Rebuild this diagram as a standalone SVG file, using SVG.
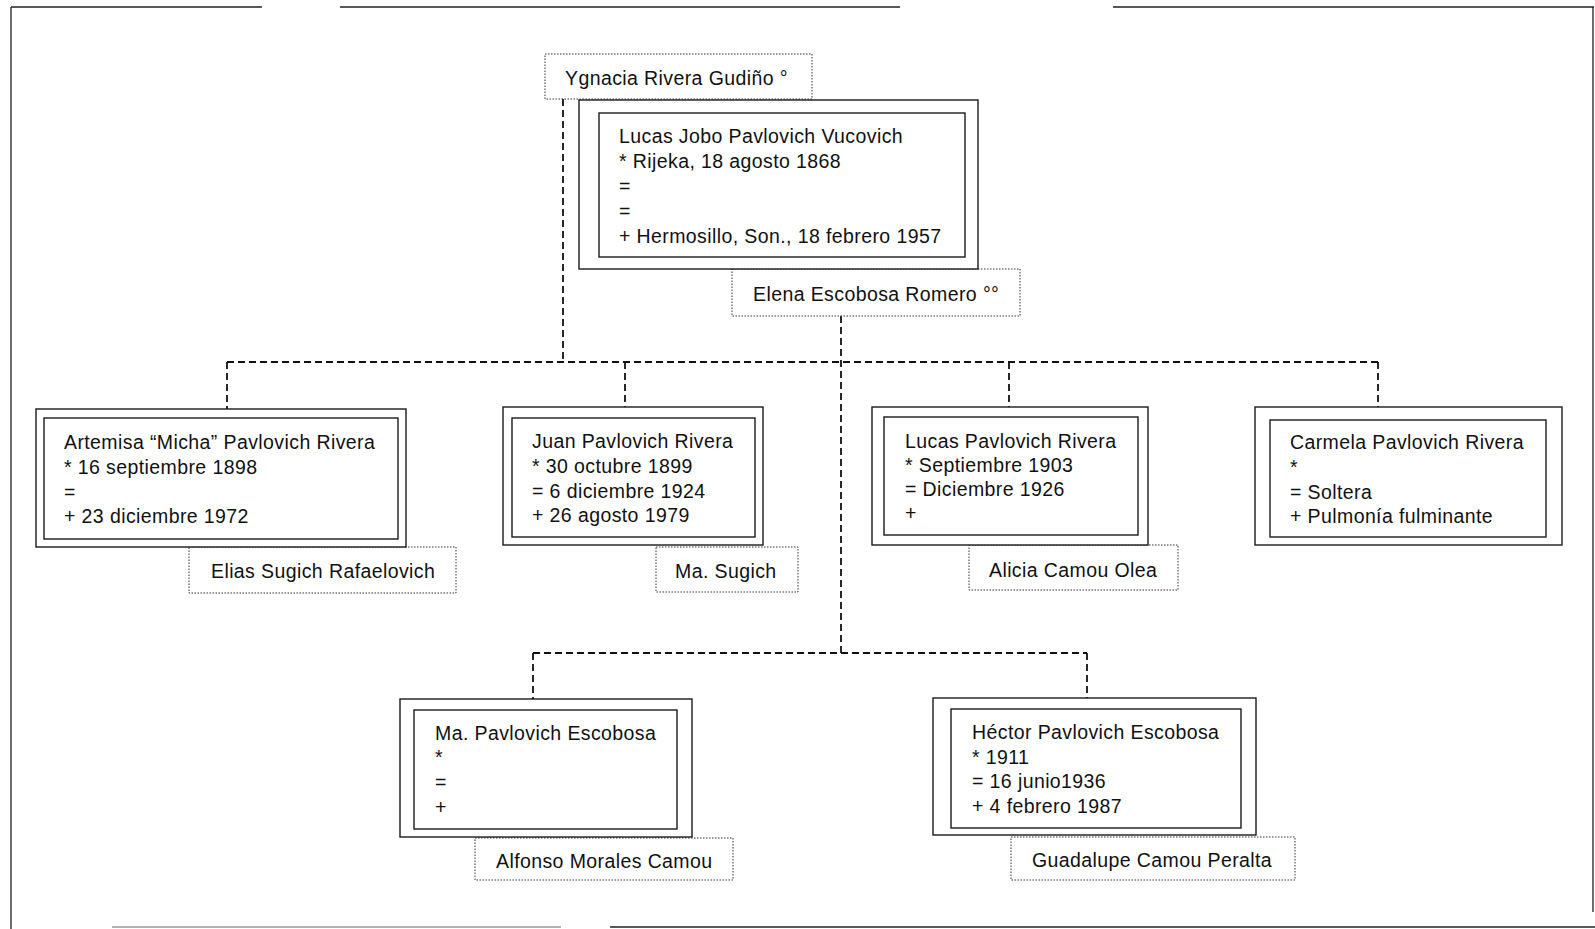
<svg xmlns="http://www.w3.org/2000/svg" width="1595" height="929" viewBox="0 0 1595 929">
<style>
.frame{fill:none;stroke:#222;stroke-width:1.3}
.box{fill:#fff;stroke:#1a1a1a;stroke-width:1.4}
.inner{fill:none;stroke:#1a1a1a;stroke-width:1.4}
.partner{fill:none;stroke:#333;stroke-width:1;stroke-dasharray:1.5 1.5}
.conn{fill:none;stroke:#111;stroke-width:1.8;stroke-dasharray:7 4}
text{font-family:"Liberation Sans",Arial,sans-serif;font-size:19.5px;letter-spacing:0.4px;fill:#111}
</style>
<rect width="1595" height="929" fill="#fff"/>
<g id="frame">
<path class="frame" d="M11,7H262M340,7H900M1113,7H1594M11,7V929M1593,7V912M610,927H1595"/>
<path d="M112,927H561" stroke="#999" stroke-width="1.3" fill="none"/>
</g>
<g id="connectors">
<path class="conn" d="M563,99V362M841,316V653M227,362H1378M227,362V409M625,362V407M1009,362V407M1378,362V407M533,653H1087M533,653V699M1087,653V698"/>
</g>
<g id="ygnacia">
<rect class="partner" x="545" y="54" width="267" height="45"/>
<text x="565" y="85">Ygnacia Rivera Gudiño °</text>
</g>
<g id="elena">
<rect class="partner" x="732" y="269" width="288" height="47"/>
<text x="753" y="301">Elena Escobosa Romero °°</text>
</g>
<g id="lucas-jobo">
<rect class="box" x="579" y="100" width="399" height="169"/>
<rect class="inner" x="599" y="113" width="366" height="144"/>
<text x="619" y="143">Lucas Jobo Pavlovich Vucovich</text>
<text x="619" y="168">* Rijeka, 18 agosto 1868</text>
<text x="619" y="193">=</text>
<text x="619" y="218">=</text>
<text x="619" y="243">+ Hermosillo, Son., 18 febrero 1957</text>
</g>
<g id="elias">
<rect class="partner" x="189" y="547" width="267" height="46"/>
<text x="211" y="578">Elias Sugich Rafaelovich</text>
</g>
<g id="artemisa">
<rect class="box" x="36" y="409" width="370" height="138"/>
<rect class="inner" x="44" y="418" width="354" height="121"/>
<text x="64" y="449">Artemisa “Micha” Pavlovich Rivera</text>
<text x="64" y="474">* 16 septiembre 1898</text>
<text x="64" y="499">=</text>
<text x="64" y="523">+ 23 diciembre 1972</text>
</g>
<g id="ma-sugich">
<rect class="partner" x="656" y="547" width="142" height="45"/>
<text x="675" y="578">Ma. Sugich</text>
</g>
<g id="juan">
<rect class="box" x="503" y="407" width="260" height="138"/>
<rect class="inner" x="512" y="418" width="243" height="119"/>
<text x="532" y="448">Juan Pavlovich Rivera</text>
<text x="532" y="473">* 30 octubre 1899</text>
<text x="532" y="498">= 6 diciembre 1924</text>
<text x="532" y="522">+ 26 agosto 1979</text>
</g>
<g id="alicia">
<rect class="partner" x="969" y="545" width="209" height="45"/>
<text x="989" y="577">Alicia Camou Olea</text>
</g>
<g id="lucas">
<rect class="box" x="872" y="407" width="276" height="138"/>
<rect class="inner" x="884" y="417" width="254" height="118"/>
<text x="905" y="448">Lucas Pavlovich Rivera</text>
<text x="905" y="472">* Septiembre 1903</text>
<text x="905" y="496">= Diciembre 1926</text>
<text x="905" y="520">+</text>
</g>
<g id="carmela">
<rect class="box" x="1255" y="407" width="307" height="138"/>
<rect class="inner" x="1270" y="420" width="276" height="117"/>
<text x="1290" y="449">Carmela Pavlovich Rivera</text>
<text x="1290" y="474">*</text>
<text x="1290" y="499">= Soltera</text>
<text x="1290" y="523">+ Pulmonía fulminante</text>
</g>
<g id="alfonso">
<rect class="partner" x="475" y="838" width="258" height="42"/>
<text x="496" y="868">Alfonso Morales Camou</text>
</g>
<g id="ma-pavlovich">
<rect class="box" x="400" y="699" width="292" height="138"/>
<rect class="inner" x="414" y="710" width="263" height="119"/>
<text x="435" y="740">Ma. Pavlovich Escobosa</text>
<text x="435" y="764">*</text>
<text x="435" y="789">=</text>
<text x="435" y="814">+</text>
</g>
<g id="guadalupe">
<rect class="partner" x="1011" y="837" width="284" height="43"/>
<text x="1032" y="867">Guadalupe Camou Peralta</text>
</g>
<g id="hector">
<rect class="box" x="933" y="698" width="323" height="137"/>
<rect class="inner" x="951" y="709" width="290" height="119"/>
<text x="972" y="739">Héctor Pavlovich Escobosa</text>
<text x="972" y="764">* 1911</text>
<text x="972" y="788">= 16 junio1936</text>
<text x="972" y="813">+ 4 febrero 1987</text>
</g>
</svg>
